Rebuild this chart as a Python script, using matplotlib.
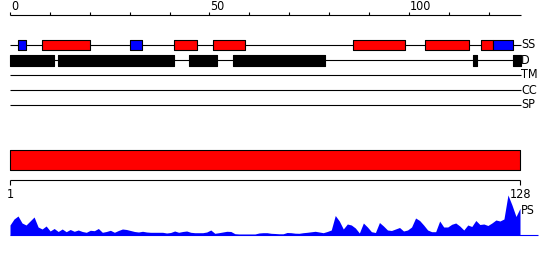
import matplotlib
matplotlib.use("Agg")
import matplotlib.pyplot as plt
import numpy as np

# sequence length and feature tracks (residue positions)
seq_len = 128
ruler_ticks = list(range(0, 121, 10))
ruler_labels = [0, 50, 100]

ss_segments = [(2, 4), (8, 20), (30, 33), (41, 47), (51, 59),
               (86, 99), (104, 115), (118, 121), (121, 126)]
ss_colors = ["blue", "red", "blue", "red", "red",
             "red", "red", "red", "blue"]
d_segments = [(0, 11), (12, 41), (45, 52), (56, 79), (116, 117), (126, 128)]
track_names = ["SS", "D", "TM", "CC", "SP"]

# per-residue profile (PS)
ps_values = [10, 16, 19, 12, 10, 14, 18, 8, 6, 9, 4, 6.5, 3.5, 6, 3.3, 5.5,
             3.7, 5, 3.5, 2.7, 4.7, 4.3, 6.5, 2.7, 3.5, 4.7, 2.7, 4.5, 6, 5.5,
             4.5, 3.5, 3,
             3.7, 3, 2.7, 2.7, 2.7, 2.7, 2, 2.5, 4, 2.7, 3.5, 4, 2.7, 2.3,
             2.3, 2.3, 3, 5, 1.7, 2.3, 3, 3.7, 3.5, 1.3, 1, 1, 1, 1, 1, 2,
             2.3, 2.3,
             1.7, 1.5, 1.2, 1.2, 2.5, 2.3, 1.8, 1.7, 2.3, 2.7, 3.2, 3.7, 3,
             2.3, 3.5, 5, 19.5, 14, 6, 11, 10, 7, 2, 12, 8, 3.3, 2.5, 12.5,
             9, 5, 4.5, 6, 7.5,
             4, 5, 8, 17, 14.5, 10, 5, 3.3, 3.3, 14, 8, 8, 10.7, 12, 9, 5,
             10, 8.5, 14.5, 10.5, 11, 9.5, 12, 15, 14, 16, 40, 30, 18.5, 26.7]

W, H = 550, 260
fig = plt.figure(figsize=(5.5, 2.6), dpi=100)
txt = dict(fontsize=9, family="DejaVu Sans", fontstretch="condensed")
lw = 0.8

# top part: ruler + tracks, x in residues (0..128 spans px 10..520.5)
pxr = (520.5 - 10) / seq_len
ax = fig.add_axes([0, 0, 1, 1])
ax.set_xlim(-10 / pxr, (W - 10) / pxr)
ax.set_ylim(H, 0)
ax.axis("off")

ax.hlines(14.7, 0, seq_len, color="black", lw=lw)
ax.vlines(ruler_ticks, 11.5, 14.7, color="black", lw=lw)
for t in ruler_labels:
    ax.text(t + 0.2, 10, str(t), ha="left", va="baseline", **txt)

track_y = [45, 60, 75, 90, 105]
for name, y in zip(track_names, track_y):
    ax.hlines(y, 0, seq_len, color="black", lw=lw, zorder=1)
    ax.text(seq_len + 0.2, y, name, ha="left", va="center", **txt)

ax.broken_barh([(s, e - s) for s, e in ss_segments], (39.8, 10.6),
               facecolors=ss_colors, edgecolor="black", lw=lw, zorder=2)
ax.broken_barh([(s, e - s) for s, e in d_segments], (55, 11),
               facecolors="black", edgecolor="black", lw=lw, zorder=2)

# bottom part: domain bar, scale, profile (1..128 spans px 10..520)
pxb = (520 - 10) / (seq_len - 1)
xl = (1 - 10 / pxb, 1 + (W - 10) / pxb)
ax2 = fig.add_axes([0, 0, 1, 1])
ax2.set_xlim(*xl)
ax2.set_ylim(H, 0)
ax2.axis("off")

ax2.broken_barh([(1, seq_len - 1)], (150.3, 20), facecolors="red",
                edgecolor="black", lw=lw)
ax2.hlines(180.3, 1, seq_len, color="black", lw=lw)
ax2.vlines([1, seq_len], 180.3, 185, color="black", lw=lw)
ax2.text(1, 194.5, "1", ha="center", va="center", **txt)
ax2.text(seq_len + 0.2, 194.5, str(seq_len), ha="center", va="center", **txt)
ax2.text(seq_len + 0.3, 210.5, "PS", ha="left", va="center", **txt)

ax3 = fig.add_axes([0, (H - 235) / H, 1, 40 / H])
ax3.set_xlim(*xl)
ax3.set_ylim(0, 40)
ax3.axis("off")
res = np.arange(1, seq_len + 1)
ax3.fill_between(res, ps_values, 0, color="blue", lw=0)
ax3.hlines(0, 1, 132.5, color="blue", lw=lw, clip_on=False)

fig.savefig("out.png", dpi=100)
